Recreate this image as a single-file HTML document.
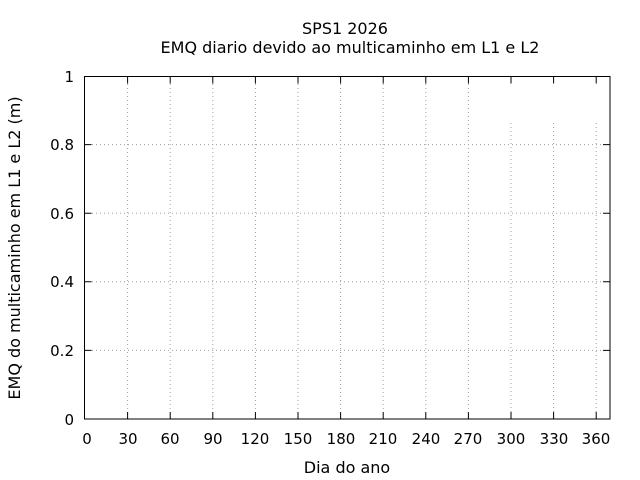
<!DOCTYPE html>
<html><head><meta charset="utf-8"><style>html,body{margin:0;padding:0;background:#fff}svg{display:block}text{font-family:"DejaVu Sans","Liberation Sans",sans-serif;font-size:15px;fill:#000}.big{font-size:16px}</style></head><body>
<svg width="640" height="480" xmlns="http://www.w3.org/2000/svg">
<g stroke="#a0a0a0" stroke-width="1" stroke-dasharray="1,3">
<line x1="92" y1="144.6" x2="602" y2="144.6"/>
<line x1="92" y1="213.2" x2="602" y2="213.2"/>
<line x1="92" y1="281.8" x2="602" y2="281.8"/>
<line x1="92" y1="350.4" x2="602" y2="350.4"/>
<line x1="127.6" y1="84" x2="127.6" y2="412"/>
<line x1="170.2" y1="84" x2="170.2" y2="412"/>
<line x1="212.8" y1="84" x2="212.8" y2="412"/>
<line x1="255.4" y1="84" x2="255.4" y2="412"/>
<line x1="298" y1="84" x2="298" y2="412"/>
<line x1="340.6" y1="84" x2="340.6" y2="412"/>
<line x1="383.2" y1="84" x2="383.2" y2="412"/>
<line x1="425.8" y1="84" x2="425.8" y2="412"/>
<line x1="468.4" y1="84" x2="468.4" y2="412"/>
<line x1="511" y1="123" x2="511" y2="412"/>
<line x1="553.6" y1="123" x2="553.6" y2="412"/>
<line x1="596.2" y1="123" x2="596.2" y2="412"/>
</g>
<g stroke="#000" stroke-width="1">
<rect x="84.5" y="76.5" width="525.5" height="342.5" fill="none"/>
<path d="M84.5 144.6h7M84.5 213.2h7M84.5 281.8h7M84.5 350.4h7M610 144.6h-7M610 213.2h-7M610 281.8h-7M610 350.4h-7"/>
<path d="M127.6 419v-7M170.2 419v-7M212.8 419v-7M255.4 419v-7M298 419v-7M340.6 419v-7M383.2 419v-7M425.8 419v-7M468.4 419v-7M511 419v-7M553.6 419v-7M596.2 419v-7"/>
<path d="M127.6 76.5v7M170.2 76.5v7M212.8 76.5v7M255.4 76.5v7M298 76.5v7M340.6 76.5v7M383.2 76.5v7M425.8 76.5v7M468.4 76.5v7M511 76.5v7M553.6 76.5v7M596.2 76.5v7"/>
</g>
<g text-anchor="end">
<text x="74" y="82">1</text>
<text x="74" y="150">0.8</text>
<text x="74" y="219">0.6</text>
<text x="74" y="287">0.4</text>
<text x="74" y="356">0.2</text>
<text x="74" y="425">0</text>
</g>
<g text-anchor="middle">
<text x="87" y="444">0</text>
<text x="128" y="444">30</text>
<text x="170" y="444">60</text>
<text x="213" y="444">90</text>
<text x="255" y="444">120</text>
<text x="298" y="444">150</text>
<text x="341" y="444">180</text>
<text x="383" y="444">210</text>
<text x="426" y="444">240</text>
<text x="468" y="444">270</text>
<text x="511" y="444">300</text>
<text x="554" y="444">330</text>
<text x="596" y="444">360</text>
<text class="big" x="347" y="473">Dia do ano</text>
<text class="big" x="345" y="34">SPS1 2026</text>
<text class="big" x="350" y="53">EMQ diario devido ao multicaminho em L1 e L2</text>
<text class="big" transform="translate(20,248) rotate(-90)">EMQ do multicaminho em L1 e L2 (m)</text>
</g>
</svg>
</body></html>
